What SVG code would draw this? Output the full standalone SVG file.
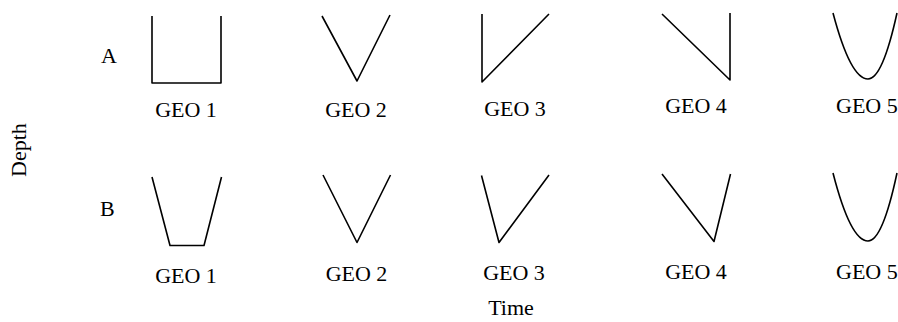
<svg xmlns="http://www.w3.org/2000/svg" width="898" height="322" viewBox="0 0 898 322">
<style>
  .shape { fill: none; stroke: #000; stroke-width: 1.6; stroke-linejoin: round; stroke-linecap: butt; }
  .lbl { font-family: "Liberation Serif", "Times New Roman", serif; font-size: 22px; fill: #000; }
</style>
<rect width="898" height="322" fill="#fff"/>
<g id="axis-labels">
  <text class="lbl" transform="translate(26,177) rotate(-90)">Depth</text>
  <text class="lbl" x="511" y="315" text-anchor="middle">Time</text>
  <text class="lbl" x="101" y="63">A</text>
  <text class="lbl" x="100" y="216">B</text>
</g>
<g id="row-a">
  <g id="a-geo1">
    <polyline class="shape" points="152,16 152,83 221,83 221,16"/>
    <text class="lbl" x="186" y="117" text-anchor="middle">GEO 1</text>
  </g>
  <g id="a-geo2">
    <polyline class="shape" points="322,16 357,81 390,15"/>
    <text class="lbl" x="356" y="117" text-anchor="middle">GEO 2</text>
  </g>
  <g id="a-geo3">
    <polyline class="shape" points="482,14 482,82 549,14"/>
    <text class="lbl" x="515" y="116" text-anchor="middle">GEO 3</text>
  </g>
  <g id="a-geo4">
    <polyline class="shape" points="662,14 730,80 730,13"/>
    <text class="lbl" x="696" y="113" text-anchor="middle">GEO 4</text>
  </g>
  <g id="a-geo5">
    <path class="shape" d="M833,13 Q850.5,79 868,79 Q882.5,79 897,13"/>
    <text class="lbl" x="836" y="113">GEO 5</text>
  </g>
</g>
<g id="row-b">
  <g id="b-geo1">
    <polyline class="shape" points="152,177 170,245.5 204,245.5 221.5,177"/>
    <text class="lbl" x="186" y="283" text-anchor="middle">GEO 1</text>
  </g>
  <g id="b-geo2">
    <polyline class="shape" points="323,175 357,242.5 390.5,175"/>
    <text class="lbl" x="356.5" y="281" text-anchor="middle">GEO 2</text>
  </g>
  <g id="b-geo3">
    <polyline class="shape" points="481.5,175.5 499,242.5 549,175"/>
    <text class="lbl" x="514" y="280" text-anchor="middle">GEO 3</text>
  </g>
  <g id="b-geo4">
    <polyline class="shape" points="662,174 714,241.5 730.5,174"/>
    <text class="lbl" x="696" y="279" text-anchor="middle">GEO 4</text>
  </g>
  <g id="b-geo5">
    <path class="shape" d="M833,173 Q850.5,241 868,241 Q882.5,241 897,173"/>
    <text class="lbl" x="836" y="279">GEO 5</text>
  </g>
</g>
</svg>
